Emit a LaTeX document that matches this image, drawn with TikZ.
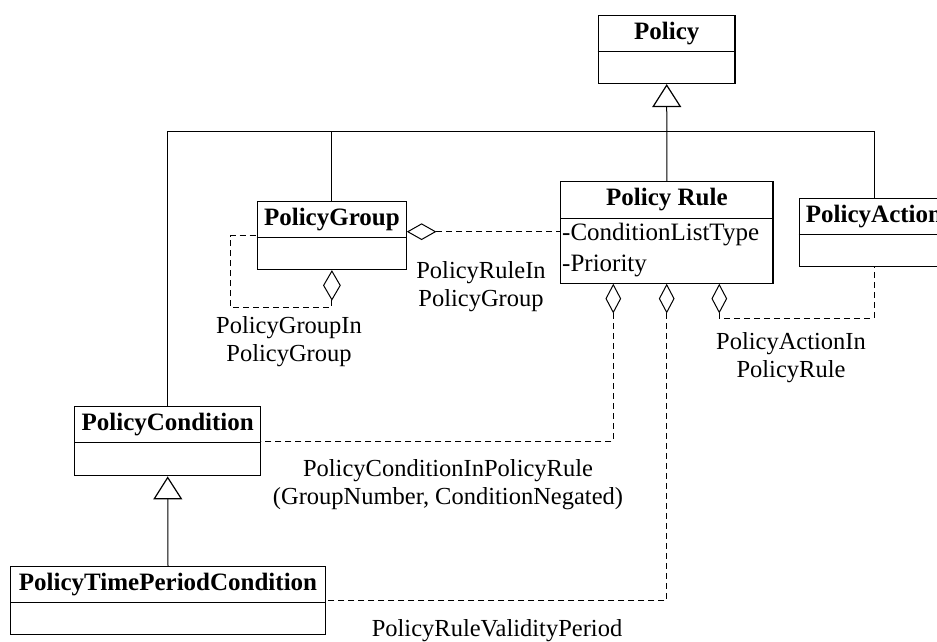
\documentclass[tikz,border=0pt]{standalone}
\usepackage{fontspec}
\setmainfont{Liberation Serif}
\usetikzlibrary{arrows.meta,shapes.geometric,calc}
\begin{document}
\begin{tikzpicture}[x=1pt,y=-1pt,
  cls/.style={draw, line width=1.4pt, inner sep=0pt, anchor=north west, fill=white},
  ctitle/.style={font=\fontsize{25}{28}\selectfont\bfseries, inner sep=0pt, text height=17pt, text depth=5pt},
  attr/.style={font=\fontsize{25}{28}\selectfont, inner sep=0pt, anchor=west, text height=17pt, text depth=5pt},
  lbl/.style={font=\fontsize{24.5}{28}\selectfont, align=center, inner sep=0pt},
  conn/.style={line width=1pt},
  assoc/.style={line width=1pt, dash pattern=on 6pt off 4pt},
  agg/.style={draw, diamond, line width=1pt, fill=white, inner sep=0pt},
  gen/.style={-{Triangle[open, width=29pt, length=23pt, line width=1.2pt]}},
  divl/.style={line width=1.4pt}
]
\clip (0,0) rectangle (937,642);

% classes
\node[cls, minimum width=136.6pt, minimum height=67.7pt] (policy) at (597.7,15) {};
\draw[divl] ($(policy.north west)+(0,36.7)$) -- ($(policy.north east)+(0,36.7)$);
\node[ctitle] (policyT) at ($(policy.north)+(0,18.3)$) {Policy};

\node[cls, minimum width=212.3pt, minimum height=101.7pt] (rule) at (560,181) {};
\draw[divl] ($(rule.north west)+(0,37.3)$) -- ($(rule.north east)+(0,37.3)$);
\node[ctitle] (ruleT) at ($(rule.north)+(0,18.7)$) {Policy Rule};
\node[attr] (ruleA1) at ($(rule.north west)+(2,53)$) {-ConditionListType};
\node[attr] (ruleA2) at ($(rule.north west)+(2,84)$) {-Priority};

\node[cls, minimum width=149.2pt, minimum height=68pt] (action) at (798.7,197.7) {};
\draw[divl] ($(action.north west)+(0,36.6)$) -- ($(action.north east)+(0,36.6)$);
\node[ctitle] (actionT) at ($(action.north)+(0,18.3)$) {PolicyAction};

\node[cls, minimum width=149pt, minimum height=68.3pt] (group) at (256.7,200.7) {};
\draw[divl] ($(group.north west)+(0,36.6)$) -- ($(group.north east)+(0,36.6)$);
\node[ctitle] (groupT) at ($(group.north)+(0,18.3)$) {PolicyGroup};

\node[cls, minimum width=186pt, minimum height=69pt] (cond) at (74,406) {};
\draw[divl] ($(cond.north west)+(0,36.3)$) -- ($(cond.north east)+(0,36.3)$);
\node[ctitle] (condT) at ($(cond.north)+(0,18)$) {PolicyCondition};

\node[cls, minimum width=314.6pt, minimum height=68pt] (ptpc) at (10,566) {};
\draw[divl] ($(ptpc.north west)+(0,36.3)$) -- ($(ptpc.north east)+(0,36.3)$);
\node[ctitle] (ptpcT) at ($(ptpc.north)+(0,18)$) {PolicyTimePeriodCondition};

% generalization
\coordinate (bus) at (0,131.7);
\draw[conn, gen] (rule.north) -- (policy.south);
\draw[conn] (cond.north) |- (action.north |- bus) -- (action.north);
\draw[conn] (group.north) -- (group.north |- bus);
\draw[conn, gen] (ptpc.north) -- (cond.south);

% aggregations
\node[agg, minimum width=28pt, minimum height=16pt, anchor=west] (gagg) at ($(group.north east)+(0,31)$) {};
\node[agg, minimum width=17pt, minimum height=29pt, anchor=north] (gself) at (group.south) {};
\node[agg, minimum width=15pt, minimum height=28pt, anchor=north] (r1) at ($(rule.south west)+(53.3,0)$) {};
\node[agg, minimum width=15pt, minimum height=28pt, anchor=north] (r2) at ($(rule.south west)+(106.7,0)$) {};
\node[agg, minimum width=15pt, minimum height=28pt, anchor=north] (r3) at ($(rule.south west)+(159.3,0)$) {};

\coordinate (gloop) at (230,307.3);
\draw[assoc] (gagg.east) -- (rule.west |- gagg.east);
\draw[assoc] (gself.south) |- (gloop) |- ($(group.north west)+(0,35)$);
\draw[assoc] (r1.south) |- (cond.east);
\draw[assoc] (r2.south) |- (ptpc.east);
\draw[assoc] (r3.south) -- ++(0,5) -| (action.south);

% labels
\node[lbl] (l1) at (481,287) {PolicyRuleIn\\PolicyGroup};
\node[lbl] (l2) at (289,342) {PolicyGroupIn\\PolicyGroup};
\node[lbl] (l3) at (791,358) {PolicyActionIn\\PolicyRule};
\node[lbl] (l4) at (448,485) {PolicyConditionInPolicyRule\\(GroupNumber, ConditionNegated)};
\node[lbl] (l5) at (497,631) {PolicyRuleValidityPeriod};
\end{tikzpicture}
\end{document}
